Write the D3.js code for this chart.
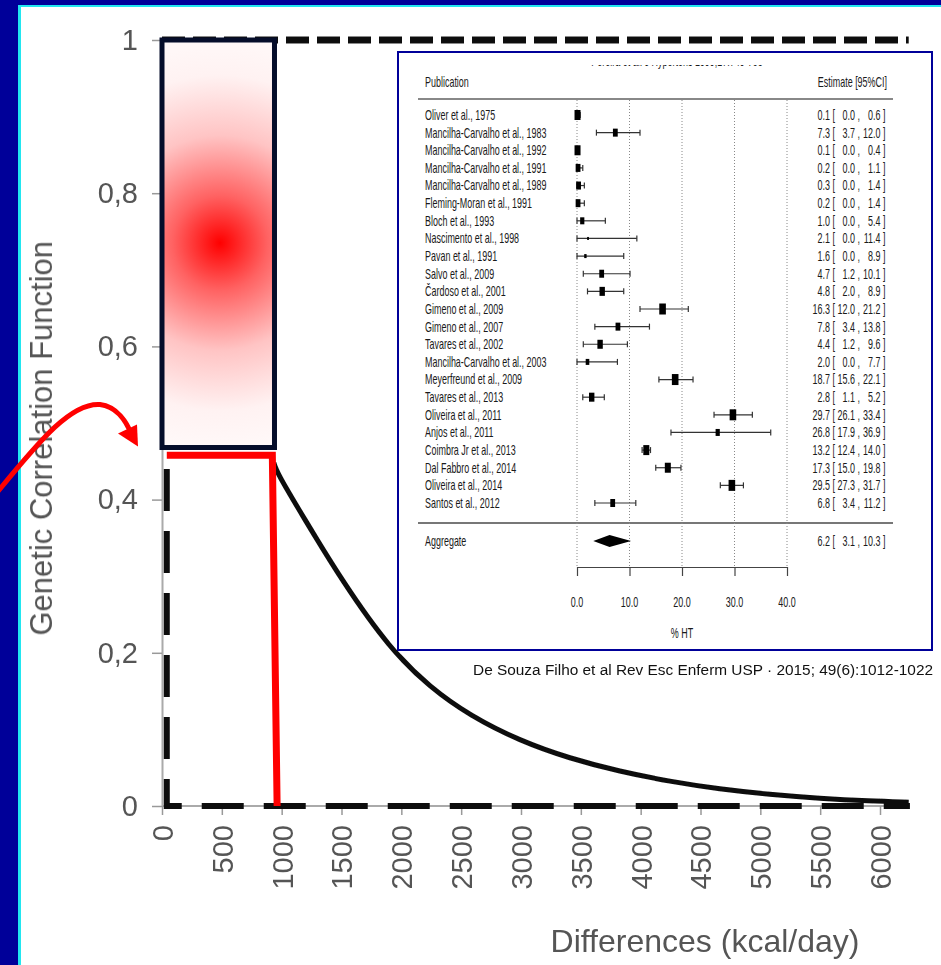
<!DOCTYPE html>
<html>
<head>
<meta charset="utf-8">
<script src="https://cdn.jsdelivr.net/npm/d3@7"></script>
<style>
  body { margin: 0; background: #000099; }
  svg { display: block; }
</style>
</head>
<body>
<script>
var width = 941,
    height = 965

// ---- main chart data ----
const yTicks = [0, 0.2, 0.4, 0.6, 0.8, 1]
const xTicks = [0, 500, 1000, 1500, 2000, 2500, 3000, 3500, 4000, 4500, 5000, 5500, 6000]
const curveKcal  = [935, 961, 1178, 1512, 1905, 2239, 2573, 2991, 3409, 3826, 4244, 4662, 5079, 5497, 5915, 6240]
const curveValue = [0.448, 0.435, 0.378, 0.292, 0.205, 0.155, 0.118, 0.085, 0.062, 0.045, 0.032, 0.022, 0.015, 0.010, 0.0065, 0.005]
const refTop  = [[0, 1], [6240, 1]]
const refDrop = [[40, 1], [40, 0], [6250, 0]]
const redCut  = [[40, 0.458], [922, 0.458], [962, 0]]
const boxKcal = [0, 940]
const boxValue = [0.468, 1.0]
const glowAt = [485, 0.735]

// ---- forest plot (inset) data ----
const studies = [
  'Oliver et al., 1975', 'Mancilha-Carvalho et al., 1983', 'Mancilha-Carvalho et al., 1992',
  'Mancilha-Carvalho et al., 1991', 'Mancilha-Carvalho et al., 1989', 'Fleming-Moran et al., 1991',
  'Bloch et al., 1993', 'Nascimento et al., 1998', 'Pavan et al., 1991', 'Salvo et al., 2009',
  'Čardoso et al., 2001', 'Gimeno et al., 2009', 'Gimeno et al., 2007', 'Tavares et al., 2002',
  'Mancilha-Carvalho et al., 2003', 'Meyerfreund et al., 2009', 'Tavares et al., 2013',
  'Oliveira et al., 2011', 'Anjos et al., 2011', 'Coimbra Jr et al., 2013', 'Dal Fabbro et al., 2014',
  'Oliveira et al., 2014', 'Santos et al., 2012'
]
const est = [0.1, 7.3, 0.1, 0.2, 0.3, 0.2, 1.0, 2.1, 1.6, 4.7, 4.8, 16.3, 7.8, 4.4, 2.0, 18.7, 2.8, 29.7, 26.8, 13.2, 17.3, 29.5, 6.8]
const lo  = [0.0, 3.7, 0.0, 0.0, 0.0, 0.0, 0.0, 0.0, 0.0, 1.2, 2.0, 12.0, 3.4, 1.2, 0.0, 15.6, 1.1, 26.1, 17.9, 12.4, 15.0, 27.3, 3.4]
const hi  = [0.6, 12.0, 0.4, 1.1, 1.4, 1.4, 5.4, 11.4, 8.9, 10.1, 8.9, 21.2, 13.8, 9.6, 7.7, 22.1, 5.2, 33.4, 36.9, 14.0, 19.8, 31.7, 11.2]
const weight = [10, 8, 10, 8, 8, 8, 7, 3, 4, 8, 9, 11, 8, 9, 6, 11, 9, 11, 7, 10, 10, 11, 8]
const aggEst = 6.2, aggLo = 3.1, aggHi = 10.3
const forestTicks = [0, 10, 20, 30, 40]

var svg = d3.select('body').append('svg')
    .attr('width', width)
    .attr('height', height)

var defs = svg.append('defs')
defs.append('filter').attr('id', 'soft')
    .append('feGaussianBlur').attr('stdDeviation', 0.6)

// frame
svg.append('rect').attr('width', width).attr('height', height).attr('fill', '#000099')
svg.append('rect').attr('x', 18).attr('y', 5).attr('width', width).attr('height', height).attr('fill', '#22e6f0')
svg.append('rect').attr('x', 21).attr('y', 7).attr('width', width).attr('height', height).attr('fill', '#fff')

var x = d3.scaleLinear().domain([0, 6000]).range([162, 880])
var y = d3.scaleLinear().domain([0, 1]).range([806, 40])

var main = svg.append('g').attr('filter', 'url(#soft)')
var font = 'Liberation Sans, Arial, sans-serif'

// y axis
var yAxis = main.append('g')
    .attr('transform', `translate(${x(0)},0)`)
    .call(d3.axisLeft(y).tickValues(yTicks).tickSize(10).tickSizeOuter(0).tickPadding(14)
        .tickFormat(d => String(d).replace('.', ',')))
yAxis.select('.domain').attr('stroke', '#aaa').attr('stroke-width', 2)
yAxis.selectAll('line').attr('stroke', '#999').attr('stroke-width', 1.5)
yAxis.selectAll('text').attr('font-family', font).attr('font-size', 29).attr('fill', '#555')

// x axis
main.append('line')
    .attr('x1', x(0)).attr('x2', x(6250))
    .attr('y1', y(0)).attr('y2', y(0))
    .attr('stroke', '#aaa').attr('stroke-width', 2)
var xAxis = main.append('g')
    .attr('transform', `translate(0,${y(0)})`)
    .call(d3.axisBottom(x).tickValues(xTicks).tickSize(9).tickSizeOuter(0).tickFormat(d => String(d)))
xAxis.select('.domain').remove()
xAxis.selectAll('line').attr('stroke', '#999').attr('stroke-width', 1.5)
xAxis.selectAll('text')
    .attr('font-family', font).attr('font-size', 29).attr('fill', '#555')
    .attr('text-anchor', 'end')
    .attr('transform', 'rotate(-90)')
    .attr('x', -19).attr('y', 0).attr('dy', '0.36em')

// axis titles
main.append('text')
    .attr('transform', `translate(41,${(y(0.22) + y(0.74)) / 2}) rotate(-90)`)
    .attr('text-anchor', 'middle').attr('dy', '0.36em')
    .attr('font-family', font).attr('font-size', 31).attr('fill', '#555')
    .text('Genetic Correlation Function')
main.append('text')
    .attr('x', 705).attr('y', 952)
    .attr('text-anchor', 'middle')
    .attr('font-family', font).attr('font-size', 32).attr('fill', '#555')
    .text('Differences (kcal/day)')

var line = d3.line().x(d => x(d[0])).y(d => y(d[1]))

// reference dashed lines
main.append('path').datum(refTop)
    .attr('d', line).attr('fill', 'none')
    .attr('stroke', '#111').attr('stroke-width', 7)
    .attr('stroke-dasharray', '23 8')
var dropLen = y(0.44) - y(1)
main.append('path').datum(refDrop)
    .attr('d', line).attr('fill', 'none')
    .attr('stroke', '#111').attr('stroke-width', 6)
    .attr('stroke-dasharray', '42 20')
    .attr('stroke-dashoffset', (62 - dropLen % 62) % 62)

// the decay curve
main.append('path').datum(d3.zip(curveKcal, curveValue))
    .attr('d', d3.line().x(d => x(d[0])).y(d => y(d[1])).curve(d3.curveBasis))
    .attr('fill', 'none')
    .attr('stroke', '#111').attr('stroke-width', 5)

// red cut-off
svg.append('path').datum(redCut)
    .attr('d', line).attr('fill', 'none')
    .attr('stroke', '#ff0000').attr('stroke-width', 7)
    .attr('stroke-linejoin', 'miter')

// gradient box
var grad = defs.append('radialGradient').attr('id', 'glow')
    .attr('gradientUnits', 'userSpaceOnUse')
    .attr('cx', x(glowAt[0])).attr('cy', y(glowAt[1])).attr('r', 215)
grad.selectAll('stop')
    .data([[0, '#ff0000'], [0.22, '#ff6262'], [0.5, '#ffc4c4'], [0.78, '#fff2f2'], [1, '#fffafa']])
    .enter().append('stop')
    .attr('offset', d => d[0]).attr('stop-color', d => d[1])
svg.append('rect')
    .attr('x', x(boxKcal[0])).attr('y', y(boxValue[1]))
    .attr('width', x(boxKcal[1]) - x(boxKcal[0]))
    .attr('height', y(boxValue[0]) - y(boxValue[1]))
    .attr('fill', 'url(#glow)')
    .attr('stroke', '#050d2a').attr('stroke-width', 5)

// red arrow pointing at the cut-off
var bx = x(boxKcal[0]), by = y(boxValue[0])
svg.append('path')
    .attr('d', `M${bx - 165},${by + 45} C${bx - 120},${by - 10} ${bx - 90},${by - 45} ${bx - 62},${by - 43}` +
               ` C${bx - 45},${by - 41} ${bx - 35},${by - 25} ${bx - 30},${by - 12}`)
    .attr('fill', 'none').attr('stroke', '#ff0000').attr('stroke-width', 5)
svg.append('path')
    .attr('d', `M${bx - 24},${by - 1} L${bx - 44},${by - 14} L${bx - 25},${by - 23} Z`)
    .attr('fill', '#ff0000')

// ---- inset forest plot ----
var inset = svg.append('g')
var SX = 0.64
inset.append('rect')
    .attr('x', 398).attr('y', 52).attr('width', 534).attr('height', 598)
    .attr('fill', '#fff').attr('stroke', '#000099').attr('stroke-width', 2)

var fx = d3.scaleLinear().domain([0, 40]).range([577, 787])
var fy = d3.scalePoint().domain(d3.range(studies.length)).range([115, 503])
var sz = d3.scaleLinear().domain([0, 11]).range([0, 11])

function ctext(sel, px, py, str, anchor, size) {
  return sel.append('text')
    .attr('transform', `translate(${px},${py}) scale(${SX},1)`)
    .attr('text-anchor', anchor || 'start')
    .attr('dy', '0.35em')
    .attr('font-family', font).attr('font-size', size || 14)
    .attr('fill', '#1a1a1a')
    .text(str)
}

// clipped running header
defs.append('clipPath').attr('id', 'hdr')
  .append('rect').attr('x', 400).attr('y', 65).attr('width', 500).attr('height', 10)
inset.append('g').attr('clip-path', 'url(#hdr)')
  .call(g => ctext(g, 677, 61, 'Pereira et al. J Hypertens 1999;17:749-753', 'middle', 14))

ctext(inset, 425, 82, 'Publication')
ctext(inset, 887, 82, 'Estimate [95%CI]', 'end')
inset.append('line').attr('x1', 418).attr('x2', 893).attr('y1', 99).attr('y2', 99)
    .attr('stroke', '#888').attr('stroke-width', 2)
inset.append('line').attr('x1', 418).attr('x2', 893).attr('y1', 523).attr('y2', 523)
    .attr('stroke', '#777').attr('stroke-width', 2)

// dotted grid
inset.selectAll('.grid').data(forestTicks).enter().append('line')
    .attr('x1', d => fx(d)).attr('x2', d => fx(d))
    .attr('y1', 100).attr('y2', 567)
    .attr('stroke', '#888').attr('stroke-width', 1).attr('stroke-dasharray', '1 2')

// axis
var fAxis = inset.append('g').attr('transform', 'translate(0,567)')
    .call(d3.axisBottom(fx).tickValues(forestTicks).tickSize(9).tickSizeOuter(0).tickFormat(d => d.toFixed(1)))
fAxis.select('.domain').attr('stroke', '#444').attr('stroke-width', 1.2)
fAxis.selectAll('line').attr('stroke', '#444').attr('stroke-width', 1.2)
fAxis.selectAll('text').remove()
forestTicks.forEach(t => ctext(inset, fx(t), 602, t.toFixed(1), 'middle'))
ctext(inset, fx(20), 633, '% HT', 'middle')

// rows
var rows = inset.selectAll('.row').data(d3.range(studies.length)).enter().append('g')
    .attr('transform', i => `translate(0,${fy(i)})`)
rows.append('line')
    .attr('x1', i => fx(lo[i])).attr('x2', i => fx(hi[i]))
    .attr('stroke', '#333').attr('stroke-width', 1.2)
rows.append('line')
    .attr('x1', i => fx(lo[i])).attr('x2', i => fx(lo[i])).attr('y1', -3).attr('y2', 3)
    .attr('stroke', '#333').attr('stroke-width', 1.2)
rows.append('line')
    .attr('x1', i => fx(hi[i])).attr('x2', i => fx(hi[i])).attr('y1', -3).attr('y2', 3)
    .attr('stroke', '#333').attr('stroke-width', 1.2)
rows.append('rect')
    .attr('x', i => fx(est[i]) - sz(weight[i]) * 0.3)
    .attr('y', i => -sz(weight[i]) / 2)
    .attr('width', i => sz(weight[i]) * 0.6)
    .attr('height', i => sz(weight[i]))
    .attr('fill', '#000')

function ciText(g, py, e, l, h) {
  ctext(g, 830, py, e.toFixed(1), 'end')
  ctext(g, 832.5, py, '[')
  ctext(g, 855, py, l.toFixed(1), 'end')
  ctext(g, 857.5, py, ',')
  ctext(g, 880.5, py, h.toFixed(1), 'end')
  ctext(g, 883, py, ']')
}
rows.each(function (i) {
  var g = d3.select(this)
  ctext(g, 425, 0, studies[i])
  ciText(g, 0, est[i], lo[i], hi[i])
})

// aggregate
var ay = 541
inset.append('path')
    .attr('d', `M${fx(aggLo)},${ay} L${fx(aggEst)},${ay - 6} L${fx(aggHi)},${ay} L${fx(aggEst)},${ay + 6} Z`)
    .attr('fill', '#000')
ctext(inset, 425, ay, 'Aggregate')
ciText(inset, ay, aggEst, aggLo, aggHi)

// citation
svg.append('text')
    .attr('x', 933).attr('y', 675)
    .attr('text-anchor', 'end')
    .attr('font-family', font).attr('font-size', 15.4).attr('fill', '#111')
    .text('De Souza Filho et al Rev Esc Enferm USP · 2015; 49(6):1012-1022')
</script>
</body>
</html>
